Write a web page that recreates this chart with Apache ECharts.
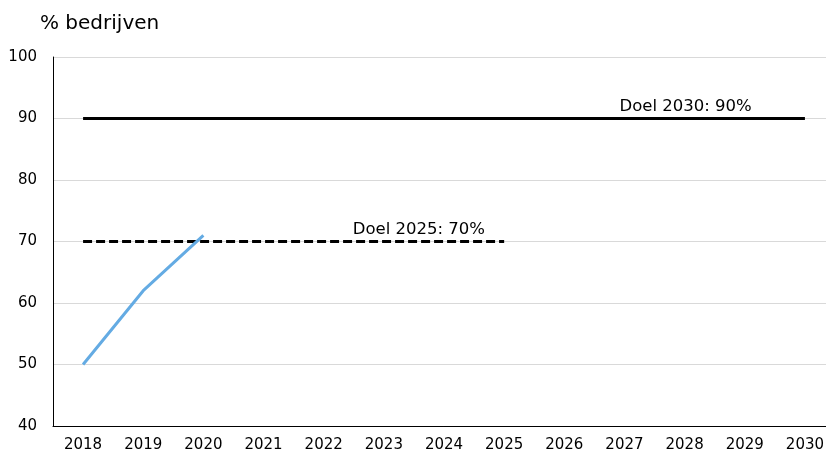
<!DOCTYPE html>
<html><head><meta charset="utf-8">
<script src="https://cdn.jsdelivr.net/npm/echarts@6/dist/echarts.min.js"></script>
<style>html,body{margin:0;padding:0;background:#fff;overflow:hidden;width:826px;height:455px}#c{width:850px;height:455px}</style>
</head><body><div id="c"></div>
<script>
const years = ['2018','2019','2020','2021','2022','2023','2024','2025','2026','2027','2028','2029','2030'];
const actual = [50, 62, 71];
const doel2025 = [70, 70, 70, 70, 70, 70, 70, 70];
const doel2030 = [90, 90, 90, 90, 90, 90, 90, 90, 90, 90, 90, 90, 90];
const yTicks = [40, 50, 60, 70, 80, 90, 100];
const yLabel = '% bedrijven';
const label2025 = 'Doel 2025: 70%';
const label2030 = 'Doel 2030: 90%';
const font = 'DejaVu Sans, Verdana, sans-serif';

const labelStyle = { show: true, position: 'top', distance: 3, fontFamily: font, fontSize: 16.5, color: '#000' };
const chart = echarts.init(document.getElementById('c'));
chart.setOption({
  animation: false,
  title: { text: yLabel, left: 35, top: 9, textStyle: { fontFamily: font, fontSize: 20, fontWeight: 'normal', color: '#000' } },
  grid: { left: 53, top: 57, width: 782, height: 369, containLabel: false },
  xAxis: {
    type: 'category', data: years, boundaryGap: true,
    axisLine: { lineStyle: { color: '#000', width: 1 } },
    axisTick: { show: false },
    axisLabel: { fontFamily: font, fontSize: 15, color: '#000', margin: 12, interval: 0 },
    splitLine: { show: false }
  },
  yAxis: {
    type: 'value', min: yTicks[0], max: yTicks[yTicks.length - 1], interval: 10,
    axisLine: { show: true, lineStyle: { color: '#000', width: 1 } },
    axisTick: { show: false },
    axisLabel: { fontFamily: font, fontSize: 15, color: '#000', margin: 16 },
    splitLine: { show: true, lineStyle: { color: '#d9d9d9', width: 1 } }
  },
  series: [
    {
      type: 'line', data: doel2030, symbol: 'none', lineStyle: { color: '#000', width: 3 }, z: 2,
      markPoint: {
        symbol: 'circle', symbolSize: 1, itemStyle: { color: 'rgba(0,0,0,0)' },
        label: labelStyle,
        data: [{ coord: [years[10], doel2030[10]], label: { formatter: label2030, offset: [1, 0] } }]
      }
    },
    {
      type: 'line', data: doel2025, symbol: 'none', lineStyle: { color: '#000', width: 3, type: [9, 4] }, z: 2,
      markPoint: {
        symbol: 'circle', symbolSize: 1, itemStyle: { color: 'rgba(0,0,0,0)' },
        label: labelStyle,
        data: [{ coord: [years[5], doel2025[5]], label: { formatter: label2025, offset: [35, 0] } }]
      }
    },
    {
      type: 'line', data: actual, symbol: 'none',
      lineStyle: { color: '#64abe3', width: 3 }, z: 3
    }
  ]
});
</script></body></html>
